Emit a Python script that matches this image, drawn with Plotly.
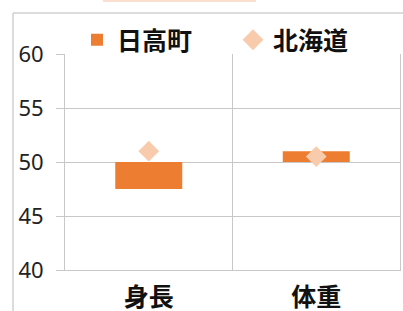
import plotly.graph_objects as go

categories = ["身長", "体重"]
hidaka = [47.5, 51.0]      # 日高町
hokkaido = [51.0, 50.5]    # 北海道
baseline = 50
y_ticks = [40, 45, 50, 55, 60]

ORANGE = "#ED7D31"
PEACH = "#F8CBAD"
GRID = "#C8C8C8"
FONT = "Noto Sans CJK JP"

fig = go.Figure()
fig.add_trace(go.Bar(
    x=categories, y=[v - baseline for v in hidaka], base=baseline,
    name="日高町", marker=dict(color=ORANGE, line=dict(width=0)),
))
fig.add_trace(go.Scatter(
    x=categories, y=hokkaido, mode="markers", name="北海道",
    marker=dict(symbol="diamond", size=16, color=PEACH, line=dict(width=0)),
))

W, H = 403, 311
L, R, T, B = 65, 3, 54, 41
pw, ph = W - L - R, H - T - B

def px(x):
    return (x - L) / pw

def py(y):
    return (H - B - y) / ph

fig.update_layout(
    width=W, height=H,
    margin=dict(l=L, r=R, t=T, b=B, autoexpand=False),
    paper_bgcolor="white", plot_bgcolor="white",
    bargap=0.6,
    showlegend=True,
    legend=dict(orientation="h", x=px(77), xanchor="left", y=py(40), yanchor="middle",
                font=dict(family=FONT, size=25, color="#111111", weight="bold"),
                bgcolor="rgba(0,0,0,0)", entrywidth=111, itemclick=False),
    xaxis=dict(type="category", range=[-0.5, 1.5], tickson="boundaries", automargin=False,
               showgrid=True, gridcolor=GRID, gridwidth=1,
               showline=True, linecolor=GRID, linewidth=1,
               ticks="", ticklabelstandoff=5,
               tickfont=dict(family=FONT, size=25, color="#111111", weight="bold")),
    yaxis=dict(range=[40, 60], tickvals=y_ticks, showgrid=True, gridcolor=GRID, gridwidth=1,
               automargin=False,
               zeroline=False, showline=True, mirror=True, linecolor=GRID, linewidth=1,
               ticks="outside", ticklen=8, tickcolor=GRID, ticklabelstandoff=8,
               tickfont=dict(family="Noto Sans", size=22, color="#222222")),
    shapes=[
        dict(type="line", xref="paper", yref="paper", x0=px(13), x1=px(403), y0=py(13), y1=py(13),
             line=dict(color="#D0D0D0", width=1.5)),
        dict(type="line", xref="paper", yref="paper", x0=px(13), x1=px(13), y0=py(13), y1=py(311),
             line=dict(color="#D0D0D0", width=1.5)),
        dict(type="line", xref="paper", yref="paper", x0=px(103), x1=px(256), y0=py(1), y1=py(1),
             line=dict(color="#FBE0D0", width=2)),
    ],
)

fig.write_html("out.html", config={"displayModeBar": False},
               post_script="document.body.style.margin='0';")
